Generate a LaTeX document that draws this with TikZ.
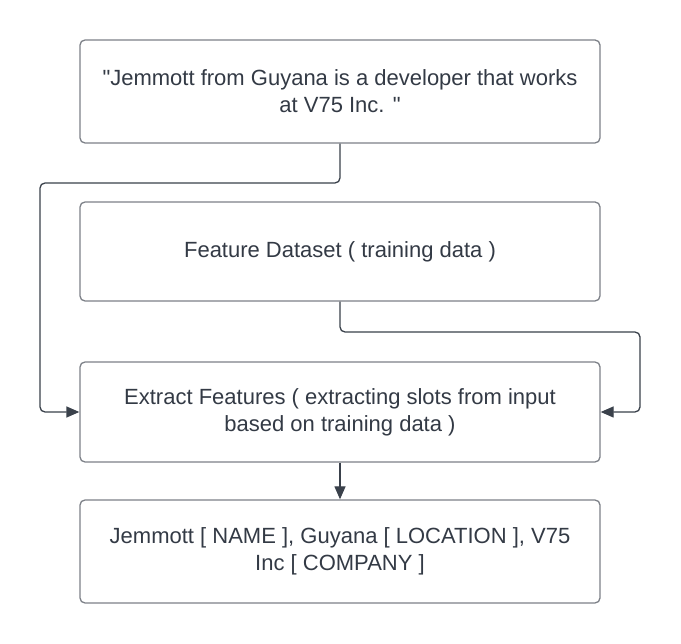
\documentclass[tikz,border=0pt]{standalone}
\usepackage{fontspec}
\setmainfont{Liberation Sans}[Ligatures=TeXOff]
\usetikzlibrary{arrows.meta}
\definecolor{txt}{HTML}{333A45}
\definecolor{bord}{HTML}{7D8188}
\definecolor{conn}{HTML}{3A414B}
\tikzset{
  box/.style={draw=bord, line width=1.3pt, rounded corners=5pt, fill=white,
    minimum width=520pt, minimum height=101pt, inner sep=0pt,
    text=txt, align=center, font=\fontsize{22}{27}\selectfont},
  connline/.style={draw=conn, line width=1.3pt, rounded corners=5pt,
    -{Triangle[length=13pt,width=11pt]}}
}
\begin{document}
\begin{tikzpicture}[x=1pt,y=-1pt]
\useasboundingbox[fill=white] (0,0) rectangle (681,644);
\node[box, minimum height=103pt] (b1) at (340,91.5) {"Jemmott from Guyana is a developer that works\\at V75 Inc. "};
\node[box, minimum height=99pt] (b2) at (340,251.5) {Feature Dataset ( training data )};
\node[box, minimum height=100pt] (b3) at (340,412) {Extract Features ( extracting slots from input\\based on training data )};
\node[box, minimum height=103pt] (b4) at (340,551.5) {Jemmott [ NAME ], Guyana [ LOCATION ], V75\\Inc [ COMPANY ]};
\coordinate (c1) at (40,183);
\coordinate (c2) at (640,332);
\draw[connline] (b1.south) |- (c1) |- (b3.west);
\draw[connline] (b2.south) |- (c2) |- (b3.east);
\draw[connline] (b3.south) -- (b4.north);
\end{tikzpicture}
\end{document}
